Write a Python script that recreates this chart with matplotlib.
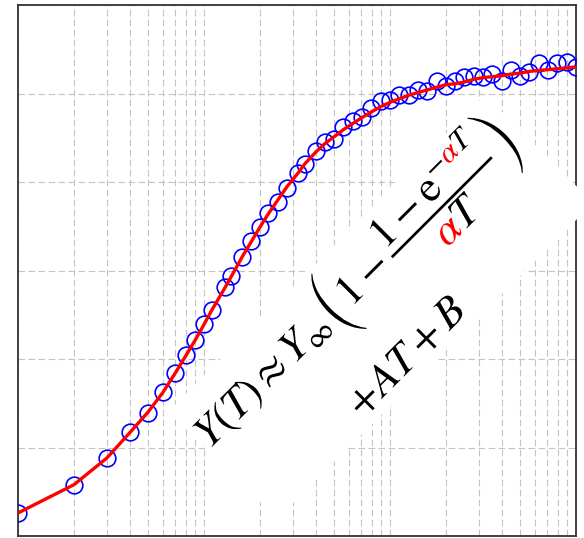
import numpy as np
import matplotlib
matplotlib.use("Agg")
import matplotlib.pyplot as plt
import matplotlib.transforms as mtransforms
from matplotlib.font_manager import FontProperties
from matplotlib.patches import PathPatch, Rectangle
from matplotlib.path import Path
from matplotlib.textpath import TextToPath

plt.rcParams["mathtext.fontset"] = "stix"

# sampling times (log-spaced, rounded to integers)
T = [1, 2, 3, 4, 5, 6, 7, 8, 9, 10,
     11, 13, 14, 16, 18, 20, 22, 25, 28, 32,
     35, 40, 45, 50, 56, 63, 71, 79, 89, 100,
     112, 126, 141, 158, 178, 200, 224, 251, 282, 316,
     355, 398, 447, 501, 562, 631, 708, 794, 891, 1000]

# measured response
Y_obs = [0.26, 0.58, 0.88, 1.18, 1.39, 1.63, 1.84, 2.05, 2.21, 2.39,
         2.55, 2.81, 2.94, 3.15, 3.33, 3.49, 3.65, 3.77, 3.93, 4.10,
         4.20, 4.35, 4.45, 4.49, 4.62, 4.69, 4.74, 4.84, 4.91, 4.93,
         4.98, 4.98, 5.04, 5.03, 5.14, 5.08, 5.14, 5.19, 5.20, 5.19,
         5.22, 5.14, 5.26, 5.20, 5.24, 5.34, 5.27, 5.34, 5.36, 5.30]

# fitted model evaluated at the same times
Y_fit = [0.26, 0.58, 0.88, 1.17, 1.40, 1.62, 1.84, 2.04, 2.22, 2.39,
         2.55, 2.81, 2.93, 3.15, 3.33, 3.49, 3.63, 3.80, 3.95, 4.10,
         4.21, 4.34, 4.44, 4.51, 4.59, 4.66, 4.73, 4.79, 4.85, 4.90,
         4.94, 4.98, 5.01, 5.04, 5.07, 5.10, 5.11, 5.13, 5.16, 5.18,
         5.19, 5.20, 5.22, 5.23, 5.25, 5.26, 5.27, 5.28, 5.29, 5.30]

W, H, DPI = 584, 538, 100
fig = plt.figure(figsize=(W / DPI, H / DPI), dpi=DPI)
ax = fig.add_axes([18 / W, 2 / H, 558 / W, 531 / H])

ax.set_xscale("log")
ax.set_xlim(1, 1000)
ax.set_ylim(0, 6)
ax.set_yticks(np.arange(0, 7, 1))
ax.tick_params(which="both", length=0, labelleft=False, labelbottom=False)

grid_kw = dict(color="#c4c4c4", linewidth=0.8, linestyle=(0, (6, 3)))
ax.grid(True, which="major", axis="both", **grid_kw)
ax.grid(True, which="minor", axis="x", **grid_kw)
ax.set_axisbelow(True)
for s in ax.spines.values():
    s.set_color("#333333")
    s.set_linewidth(1.3)

ax.plot(T, Y_obs, linestyle="none", marker="o", markersize=12,
        markerfacecolor="none", markeredgecolor="#0000ff",
        markeredgewidth=1.2, zorder=3)
ax.plot(T, Y_fit, color="#ff0000", linewidth=2.4, zorder=4)

# ---- rotated formula annotation with a red alpha ----
FS = 31.5  # points
t2p = TextToPath()
prop = FontProperties(size=FS)


def formula_paths(s, dx, dy):
    # glyph outlines come back at FONT_SCALE points; rescale to FS
    k = FS / t2p.FONT_SCALE
    info, gmap, rects = t2p.get_glyphs_mathtext(prop, s)
    black_v, black_c, red_v, red_c = [], [], [], []
    xs = []
    for gid, x, y, scale in info:
        v, c = gmap[gid]
        v = np.asarray(v) * scale + [x, y]
        xs.append(v[:, 0])
        code = gid.rsplit("-", 1)[-1].lower()
        if code in ("3b1", "1d6fc"):
            red_v.append(v)
            red_c.append(np.asarray(c))
        else:
            black_v.append(v)
            black_c.append(np.asarray(c))
    for v, c in rects:
        v = np.asarray(v)
        xs.append(v[:-1, 0])
        black_v.append(v)
        black_c.append(np.asarray(c))
    allx = np.concatenate(xs)
    cx = (allx.min() + allx.max()) / 2
    out = []
    for vs, cs in ((black_v, black_c), (red_v, red_c)):
        if vs:
            vv = (np.concatenate(vs) - [cx, 0]) * k + [dx, dy]
            out.append(Path(vv, np.concatenate(cs)))
        else:
            out.append(None)
    return out


line1 = (r"$Y(T)\approx Y_{\infty}\left(1-\dfrac{1-\mathrm{e}^{-\alpha T}}"
         r"{\alpha T}\right)$")
line2 = r"$+AT+B$"

anchor = mtransforms.ScaledTranslation(0.6172, 0.4508, ax.transAxes)
tr = (mtransforms.Affine2D().scale(1 / 72).rotate_deg(45)
      + fig.dpi_scale_trans + anchor)

box = Rectangle((-156.6, -69.8), 321.8, 110.1, facecolor="white",
                edgecolor="none", transform=tr, zorder=5)
fig.add_artist(box)

for s, dx, dy in ((line1, 0.0, 0.0), (line2, -8.6, -61.9)):
    pb, pr = formula_paths(s, dx, dy)
    if pb is not None:
        fig.add_artist(PathPatch(pb, facecolor="black", edgecolor="none",
                                 transform=tr, zorder=6))
    if pr is not None:
        fig.add_artist(PathPatch(pr, facecolor="#ff0000", edgecolor="none",
                                 transform=tr, zorder=6))

fig.savefig("out.png", dpi=DPI)
